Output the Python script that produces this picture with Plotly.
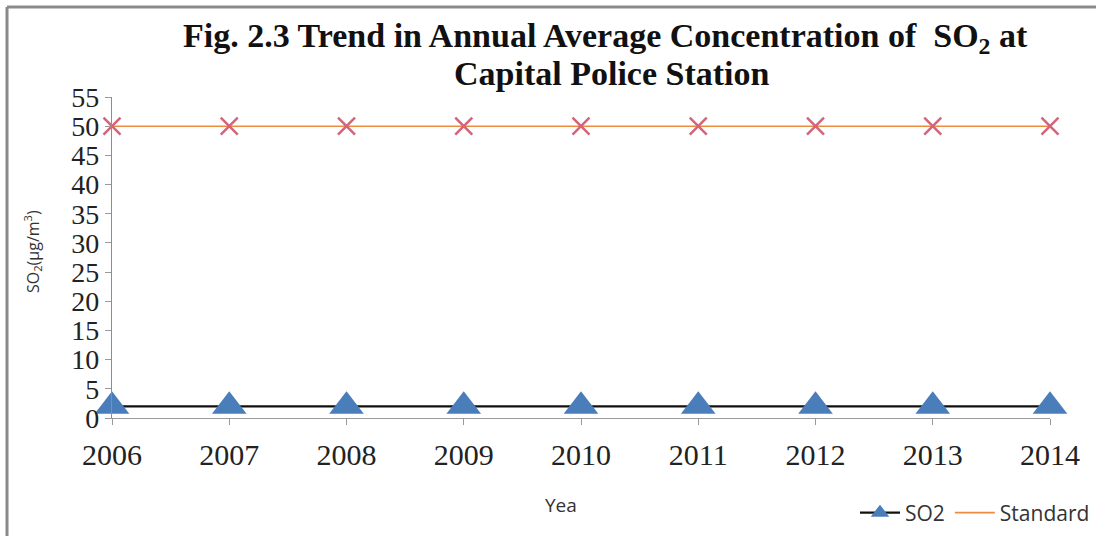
import plotly.graph_objects as go

# Annual average SO2 at Capital Police Station vs. the standard
years = [2006, 2007, 2008, 2009, 2010, 2011, 2012, 2013, 2014]
so2 = [2, 2, 2, 2, 2, 2, 2, 2, 2]
standard = [50, 50, 50, 50, 50, 50, 50, 50, 50]
y_ticks = [0, 5, 10, 15, 20, 25, 30, 35, 40, 45, 50, 55]

serif = "Liberation Serif, Times New Roman, serif"
sans = "Open Sans, Carlito, Calibri, sans-serif"

W, H = 1096, 536
L, R, T, B = 112, 46, 97, 118
pw, ph = W - L - R, H - T - B


def px(x):
    return (x - L) / pw


def py(y):
    return (H - B - y) / ph


fig = go.Figure()

# Standard: orange line (legend entry) plus pink cross markers
fig.add_trace(go.Scatter(
    x=years, y=standard, name="Standard", mode="lines",
    line=dict(color="#ED8C3E", width=1.6),
    cliponaxis=False,
))
fig.add_trace(go.Scatter(
    x=years, y=standard, name="Standard", mode="markers", showlegend=False,
    marker=dict(symbol="x-thin", size=17, line=dict(color="#D5647A", width=2.5)),
    cliponaxis=False,
))

# SO2: black line with blue triangle markers
fig.add_trace(go.Scatter(
    x=years, y=so2, name="SO2", mode="lines+markers",
    line=dict(color="#111111", width=2.2),
    marker=dict(symbol="triangle-up", size=30, color="#4A7EBB"),
    cliponaxis=False,
))

title_font = dict(family=serif, size=34, color="#111111", weight="bold")
label_font = dict(family=sans, size=19, color="#333333")

fig.update_layout(
    width=W, height=H,
    margin=dict(l=L, r=R, t=T, b=B, autoexpand=False),
    paper_bgcolor="white", plot_bgcolor="white",
    showlegend=True,
    legend=dict(
        orientation="h",
        x=px(1095), xanchor="right", y=py(513), yanchor="middle",
        font=dict(family=sans, size=21, color="#333333"),
        traceorder="reversed", itemwidth=40,
        bgcolor="rgba(0,0,0,0)",
    ),
    xaxis=dict(
        range=[2006, 2014], tickmode="array", tickvals=years,
        ticktext=[str(y) for y in years],
        showgrid=False, zeroline=False,
        showline=True, linecolor="#9a9a9a", linewidth=1.2,
        ticks="outside", ticklen=6, tickcolor="#9a9a9a",
        ticklabelstandoff=4,
        tickfont=dict(family=serif, size=30, color="#222222"),
    ),
    yaxis=dict(
        range=[0, 55], tickmode="array", tickvals=y_ticks,
        showgrid=False, zeroline=False,
        showline=True, linecolor="#a08878", linewidth=1.2,
        ticks="outside", ticklen=6, tickcolor="#9a9a9a",
        tickfont=dict(family=serif, size=28, color="#222222"),
    ),
    annotations=[
        dict(text="Fig. 2.3 Trend in Annual Average Concentration of  SO<sub>2</sub> at",
             xref="paper", yref="paper", x=px(605), y=py(38),
             xanchor="center", yanchor="middle", showarrow=False, font=title_font),
        dict(text="Capital Police Station",
             xref="paper", yref="paper", x=px(612), y=py(73),
             xanchor="center", yanchor="middle", showarrow=False, font=title_font),
        dict(text="Yea", xref="paper", yref="paper", x=px(561), y=py(505),
             xanchor="center", yanchor="middle", showarrow=False, font=label_font),
        dict(text="SO<sub>2</sub>(μg/m<sup>3</sup>)", textangle=-90,
             xref="paper", yref="paper", x=px(32), y=py(252),
             xanchor="center", yanchor="middle", showarrow=False,
             font=dict(family=sans, size=16, color="#333333")),
    ],
    shapes=[
        # frame around the chart (top and left edges)
        dict(type="line", xref="paper", yref="paper", x0=px(7), x1=px(1100),
             y0=py(7), y1=py(7), line=dict(color="#8a8a8a", width=3)),
        dict(type="line", xref="paper", yref="paper", x0=px(7), x1=px(7),
             y0=py(540), y1=py(7), line=dict(color="#8a8a8a", width=3)),
    ],
)

fig.write_html("out.html")
